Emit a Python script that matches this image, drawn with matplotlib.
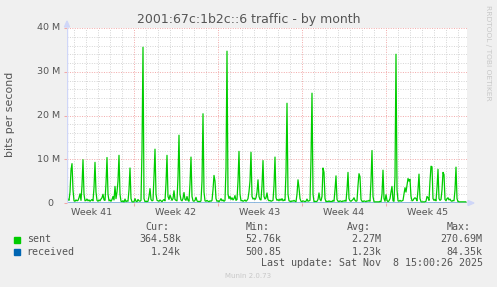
import numpy as np
import matplotlib
matplotlib.use("Agg")
import matplotlib.pyplot as plt
from matplotlib.patches import Polygon, Rectangle
from matplotlib.transforms import blended_transform_factory

# sent traffic in Mbit/s, one sample every 2 hours
sent = [
    0.8, 0.9, 0.6, 2.5, 7.5, 9.0, 3.0, 0.5, 0.4, 0.7,
    0.5, 0.6, 1.2, 2.1, 0.6, 4.0, 9.9, 2.0, 0.5, 0.6,
    0.9, 0.5, 0.7, 0.4, 0.6, 0.8, 0.5, 3.5, 9.3, 2.5,
    0.6, 0.4, 0.7, 0.5, 0.9, 1.2, 2.0, 0.7, 0.6, 4.5,
    10.4, 2.0, 0.5, 0.7, 0.4, 0.8, 1.5, 0.7, 3.8, 1.0,
    2.5, 5.0, 10.9, 2.0, 0.4, 0.3, 0.5, 0.2, 0.9, 0.3,
    0.5, 0.4, 3.0, 8.0, 1.0, 0.3, 0.2, 0.3, 1.0, 0.4,
    0.3, 0.8, 0.5, 0.4, 0.6, 12.0, 35.6, 1.0, 0.3, 0.4,
    0.3, 0.4, 1.5, 3.3, 0.8, 0.5, 0.6, 6.0, 12.3, 2.0,
    0.6, 0.5, 0.4, 0.7, 0.5, 0.3, 0.6, 0.8, 0.5, 4.5,
    10.9, 1.5, 0.8, 1.8, 1.2, 0.6, 1.0, 2.8, 0.8, 0.6,
    0.5, 6.0, 15.5, 2.0, 0.7, 0.5, 1.0, 2.4, 0.8, 0.6,
    1.5, 0.6, 0.4, 4.5, 10.5, 1.5, 0.5, 0.4, 0.6, 1.3,
    0.5, 0.3, 0.4, 0.3, 0.5, 5.0, 20.4, 2.5, 0.5, 0.4,
    0.6, 0.4, 0.3, 0.5, 0.4, 0.6, 3.0, 6.3, 5.0, 1.0,
    0.4, 0.5, 0.3, 0.6, 1.0, 0.5, 0.7, 0.4, 0.6, 8.0,
    34.7, 2.0, 1.0, 1.5, 0.8, 1.2, 0.7, 1.0, 1.7, 0.6,
    0.8, 5.0, 11.8, 2.0, 0.5, 0.6, 0.4, 0.5, 0.7, 0.4,
    0.6, 1.0, 2.6, 5.0, 11.6, 1.5, 0.9, 1.1, 0.8, 1.2,
    2.5, 5.3, 1.5, 0.8, 0.7, 4.0, 9.7, 1.5, 0.9, 1.2,
    2.3, 0.8, 0.5, 0.6, 0.4, 0.5, 0.6, 4.0, 10.5, 1.2,
    0.6, 0.8, 0.5, 0.9, 0.6, 1.0, 0.5, 0.7, 0.6, 7.0,
    22.8, 2.0, 0.5, 0.4, 0.3, 0.5, 0.4, 0.6, 0.4, 0.3,
    2.0, 5.3, 3.5, 1.0, 0.4, 0.3, 0.5, 0.4, 0.3, 0.4,
    0.9, 0.4, 0.5, 0.6, 10.0, 25.1, 2.0, 0.3, 0.4, 0.3,
    0.4, 0.8, 2.3, 0.8, 0.5, 1.5, 8.0, 7.0, 1.0, 0.3,
    0.4, 0.3, 0.5, 0.3, 0.4, 0.3, 0.6, 0.4, 3.0, 6.2,
    0.8, 0.4, 0.3, 0.5, 0.4, 0.3, 0.5, 0.4, 0.6, 0.4,
    3.0, 7.0, 1.0, 0.5, 0.4, 0.6, 0.8, 1.2, 0.6, 0.4,
    0.5, 4.0, 6.7, 6.0, 0.8, 0.4, 0.3, 0.5, 0.4, 0.3,
    0.5, 0.4, 0.6, 0.4, 5.0, 12.0, 1.5, 0.3, 0.2, 0.3,
    0.2, 0.3, 0.2, 0.4, 0.3, 2.0, 7.5, 1.0, 0.4, 1.9,
    0.6, 0.3, 0.5, 1.0, 2.5, 3.8, 0.5, 0.4, 6.0, 34.0,
    3.0, 0.5, 0.4, 0.6, 0.4, 0.5, 0.6, 2.0, 3.5, 2.5,
    4.0, 5.6, 5.0, 5.4, 1.5, 0.5, 0.6, 1.0, 1.2, 1.0,
    0.5, 3.0, 6.6, 1.0, 0.3, 0.2, 0.3, 0.2, 0.3, 0.4,
    1.5, 1.2, 0.6, 5.0, 8.4, 8.3, 1.0, 0.6, 0.8, 0.5,
    3.5, 7.7, 1.0, 0.6, 0.8, 3.0, 7.0, 6.5, 0.8, 0.5,
    1.0, 1.2, 0.7, 0.9, 0.5, 0.4, 0.6, 0.5, 3.0, 8.2,
    1.0, 0.3, 0.3, 0.2, 0.3, 0.2, 0.3, 0.2, 0.3, 0.2,
]
# received is tiny (kbit/s), sits on the zero line
received_k = [1.2, 1.3, 1.1, 1.2, 1.4, 1.2, 1.3, 1.1, 1.2, 1.24]

first_hour = 34   # hours after Mon 6 Oct 00:00 (start of week 41)
step_hours = 2

weeks = ["Week 41", "Week 42", "Week 43", "Week 44", "Week 45"]
yticks = [0, 10, 20, 30, 40]
ytick_labels = ["0", "10 M", "20 M", "30 M", "40 M"]

names = ["sent", "received"]
colors = ["#00cc00", "#0066b3"]
cur = ["364.58k", "1.24k"]
vmin = ["52.76k", "500.85"]
avg = ["2.27M", "1.23k"]
vmax = ["270.69M", "84.35k"]

W, H = 497, 287
fig = plt.figure(figsize=(W / 100, H / 100), dpi=100, facecolor="#F0F0F0")
ax = fig.add_axes([67 / W, 1 - 203 / H, 400 / W, 175 / H])
ax.set_facecolor("white")

days = (first_hour + step_hours * np.arange(len(sent))) / 24
ax.plot(days, sent, color=colors[0], lw=0.9, zorder=3)
rdays = np.linspace(days[0], days[-1], len(received_k))
ax.plot(rdays, np.array(received_k) / 1000, color=colors[1], lw=0.7, zorder=2)

ax.set_xlim(17 / 12, 417 / 12)
ax.set_ylim(0, 40)

ax.set_xticks([7, 14, 21, 28])
ax.set_xticks(np.arange(2, 35), minor=True)
ax.set_yticks(yticks)
ax.set_yticks(np.arange(0, 41, 2), minor=True)
ax.set_xticklabels([])
ax.set_yticklabels([])
ax.grid(which="minor", color="#d4d4d4", lw=0.7, ls=(0, (1, 1.5)), zorder=1)
ax.grid(which="major", color="#f2a8a8", lw=0.7, ls=(0, (1, 1.5)), zorder=1)
ax.tick_params(which="major", length=2, color="#f2a8a8", width=0.75)
ax.tick_params(which="minor", length=0)
for s in ax.spines.values():
    s.set_visible(False)

# axes lines + arrows (munin colour)
axc = "#CFD6F8"
ax.axhline(0, color=axc, lw=1.0, zorder=5)
ax.axvline(17 / 12, color=axc, lw=1.0, zorder=5)
fig.patches.append(Polygon([[468 / W, 1 - 200.5 / H], [474 / W, 1 - 203 / H], [468 / W, 1 - 205.5 / H]],
                           closed=True, transform=fig.transFigure, color=axc))
fig.patches.append(Polygon([[64.5 / W, 1 - 27 / H], [67 / W, 1 - 21 / H], [69.5 / W, 1 - 27 / H]],
                           closed=True, transform=fig.transFigure, color=axc))

fc = "#555555"
tr = blended_transform_factory(ax.transData, fig.transFigure)
for i, w in enumerate(weeks):
    ax.text(3.5 + 7 * i, 1 - 212.5 / H, w, transform=tr, ha="center", va="center",
            fontsize=6.8, color=fc)
tr2 = blended_transform_factory(fig.transFigure, ax.transData)
for v, lab in zip(yticks, ytick_labels):
    xr = 53.5 if lab == "0" else 60
    ax.text(xr / W, v, lab, transform=tr2, ha="right", va="center", fontsize=6.8, color=fc)

fig.text(248.5 / W, 1 - 19 / H, "2001:67c:1b2c::6 traffic - by month", ha="center",
         va="center", fontsize=9, color=fc)
fig.text(10 / W, 1 - 114 / H, "bits per second", rotation=90, ha="center", va="center",
         fontsize=7.9, color=fc)
fig.text(488 / W, 1 - 53 / H, "RRDTOOL / TOBI OETIKER", rotation=-90, ha="center",
         va="center", fontsize=5.4, color="#c8c8c8")

mono = dict(family="DejaVu Sans Mono", fontsize=7.2, color=fc, va="center")
for lab, xl in zip(["Cur:", "Min:", "Avg:", "Max:"], [145.7, 245.7, 346.7, 446.7]):
    fig.text(xl / W, 1 - 227.5 / H, lab, ha="left", **mono)
for i, n in enumerate(names):
    y = 239.5 + 12.5 * i
    fig.patches.append(Rectangle((14 / W, 1 - (y + 3) / H), 6 / W, 6 / H,
                                 transform=fig.transFigure, color=colors[i]))
    fig.text(26.7 / W, 1 - y / H, n, ha="left", **mono)
    for col, xr in zip([cur, vmin, avg, vmax], [181, 281.7, 381.7, 482.7]):
        fig.text(xr / W, 1 - y / H, col[i], ha="right", **mono)
fig.text(482.7 / W, 1 - 263.5 / H, "Last update: Sat Nov  8 15:00:26 2025", ha="right", **mono)
fig.text(248 / W, 1 - 276 / H, "Munin 2.0.73", ha="center", va="center", fontsize=5,
         color="#c8c8c8")

fig.savefig("out.png", dpi=100, facecolor=fig.get_facecolor())
